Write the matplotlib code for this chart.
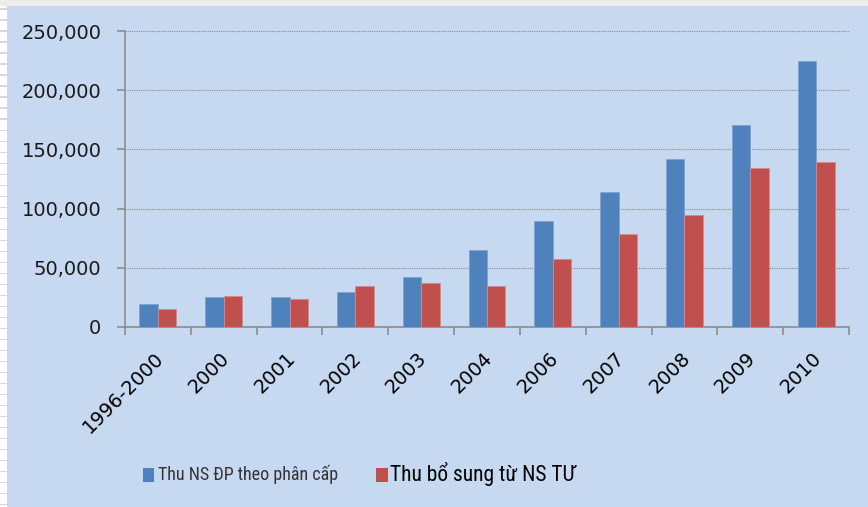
import matplotlib
matplotlib.use("Agg")
import matplotlib.pyplot as plt
from matplotlib.patches import Rectangle
from matplotlib.ticker import FuncFormatter, MultipleLocator
from matplotlib import font_manager
import matplotlib.transforms as mtransforms
import numpy as np

categories = ["1996-2000", "2000", "2001", "2002", "2003", "2004", "2006", "2007", "2008", "2009", "2010"]
thu_ns_dp = [19200, 24900, 24900, 29600, 41800, 64700, 89300, 114100, 141800, 171100, 225000]
thu_bo_sung = [14700, 25700, 23200, 34500, 37300, 34500, 57100, 78300, 94400, 134200, 139800]
series_labels = ["Thu NS ĐP theo phân cấp", "Thu bổ sung từ NS TƯ"]

BG = "#C6D9F0"
BLUE = "#4F81BD"
RED = "#C0504D"

names = {f.name for f in font_manager.fontManager.ttflist}
narrow = None
for cand in ["Liberation Sans Narrow", "Arial Narrow", "Roboto Condensed", "Open Sans Condensed",
             "DejaVu Sans Condensed", "Noto Sans Condensed"]:
    if cand in names:
        narrow = cand
        break

W, H = 868, 507
fig = plt.figure(figsize=(W / 100, H / 100), dpi=100, facecolor="white")
fig.patches.append(Rectangle((7 / W, 0), 1 - 7 / W, 1 - 6 / H, transform=fig.transFigure,
                             facecolor=BG, edgecolor="none", zorder=-10))
fig.patches.append(Rectangle((0, 1 - 6 / H), 1, 6 / H, transform=fig.transFigure,
                             facecolor="#EDEDED", edgecolor="none", zorder=-10))
for yy in range(10, H, 11):
    fig.patches.append(Rectangle((0, 1 - yy / H), 7 / W, 1.5 / H, transform=fig.transFigure,
                                 facecolor="#D8D8D8", edgecolor="none", zorder=-9))

left, right = 125 / W, 849 / W
bottom, top = 1 - 326.7 / H, 1 - 31.3 / H
ax = fig.add_axes([left, bottom, right - left, top - bottom])
ax.set_facecolor("none")

x = np.arange(len(categories))
bw = 0.28
ax.bar(x - bw / 2, thu_ns_dp, width=bw, color=BLUE, edgecolor="#7FA3D0", linewidth=0.6, zorder=3)
ax.bar(x + bw / 2, thu_bo_sung, width=bw, color=RED, edgecolor="#D88A88", linewidth=0.6, zorder=3)

ax.set_xlim(-0.5, len(categories) - 0.5)
ax.set_ylim(0, 250000)
ax.yaxis.set_major_locator(MultipleLocator(50000))
ax.yaxis.set_major_formatter(FuncFormatter(lambda v, p: f"{int(v):,}"))
ax.grid(axis="y", color="#8C8C8C", linestyle=(0, (1, 1)), linewidth=0.8, zorder=1)

for s in ["top", "right"]:
    ax.spines[s].set_visible(False)
for s in ["left", "bottom"]:
    ax.spines[s].set_color("#8C8C8C")
    ax.spines[s].set_linewidth(1.2)

ax.set_xticks(x)
ax.set_xticklabels(categories, rotation=45, ha="right", rotation_mode="anchor",
                   fontsize=14, color="black", family="DejaVu Sans")
ax.tick_params(axis="x", which="major", length=0, pad=16)
offset = mtransforms.ScaledTranslation(-4 / 100, 0, fig.dpi_scale_trans)
for t in ax.get_xticklabels():
    t.set_transform(t.get_transform() + offset)
ax.set_xticks(np.arange(len(categories) + 1) - 0.5, minor=True)
ax.tick_params(axis="x", which="minor", length=6, width=1.2, color="#8C8C8C", direction="out")
ax.tick_params(axis="y", length=6, width=1.2, color="#8C8C8C", direction="out", pad=11,
               labelsize=14, labelcolor="#1A1A1A")
for t in ax.get_yticklabels():
    t.set_family("DejaVu Sans")

# legend (manual)
ly = 1 - 474.5 / H
if narrow:
    fp1 = dict(family=[narrow, "DejaVu Sans"], fontsize=13)
    fp2 = dict(family=[narrow, "DejaVu Sans"], fontsize=15.5)
else:
    fp1 = dict(family=["DejaVu Sans"], stretch="condensed", fontsize=11)
    fp2 = dict(family=["DejaVu Sans"], stretch="condensed", fontsize=12.5)
fig.patches.append(Rectangle((143 / W, 1 - 481.7 / H), 11 / W, 14 / H, transform=fig.transFigure,
                             facecolor=BLUE, edgecolor="none"))
fig.text(158 / W, ly, series_labels[0], color="#333333", va="center", ha="left", **fp1)
fig.patches.append(Rectangle((376 / W, 1 - 481.7 / H), 12 / W, 14 / H, transform=fig.transFigure,
                             facecolor=RED, edgecolor="none"))
fig.text(390 / W, ly, series_labels[1], color="black", va="center", ha="left", **fp2)

fig.savefig("out.png", dpi=100, facecolor=fig.get_facecolor())
